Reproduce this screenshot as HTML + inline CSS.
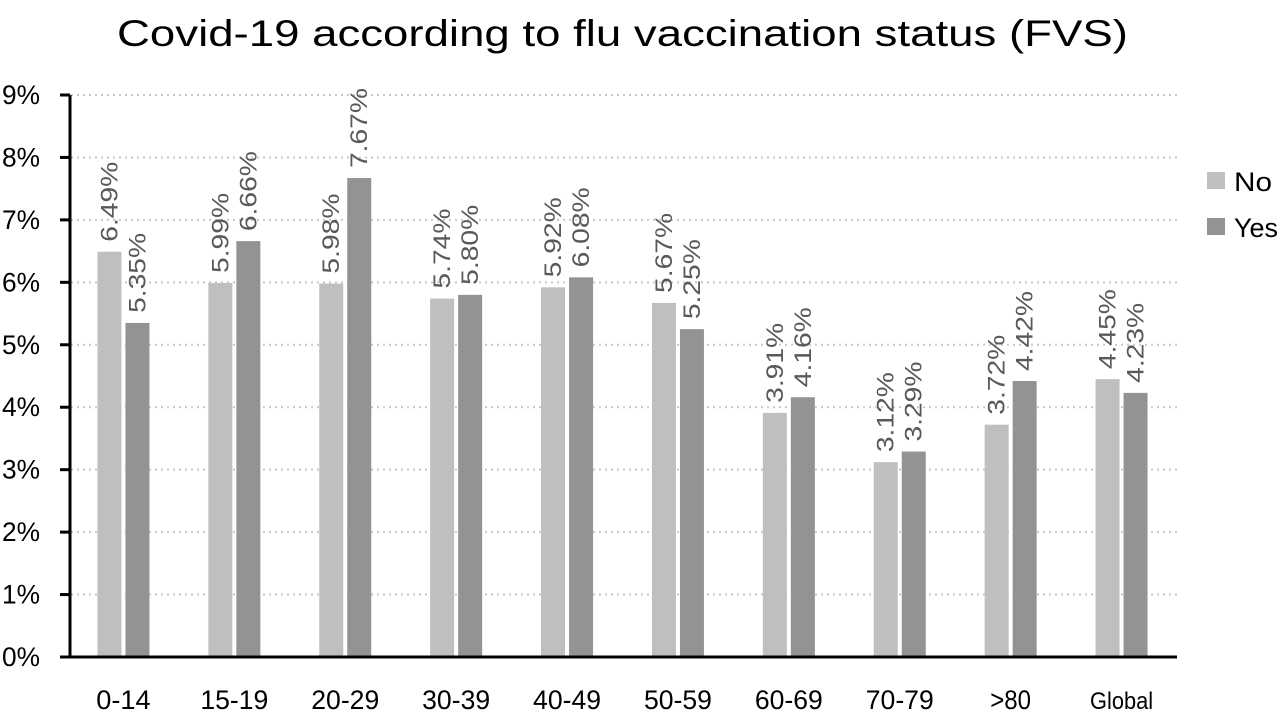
<!DOCTYPE html>
<html><head><meta charset="utf-8"><style>
body{margin:0;background:#fff;}
svg{display:block;font-family:"Liberation Sans",sans-serif;}
</style></head><body>
<svg id="c" width="1280" height="713" viewBox="0 0 1280 713">
<text x="117" y="46" textLength="1011" lengthAdjust="spacingAndGlyphs" font-size="37" fill="#000">Covid-19 according to flu vaccination status (FVS)</text>
<g id="grid"></g><g id="bars"></g><g id="axes"></g>
<g>
<rect x="1207" y="172" width="18" height="17" fill="#bfbfbf"/>
<text x="1234" y="191" textLength="38" lengthAdjust="spacingAndGlyphs" font-size="27" fill="#000">No</text>
<rect x="1207" y="218" width="18" height="17" fill="#939393"/>
<text x="1234" y="237" textLength="44" lengthAdjust="spacingAndGlyphs" font-size="27" fill="#000">Yes</text>
</g>
</svg>
<script>
const categories=["0-14","15-19","20-29","30-39","40-49","50-59","60-69","70-79",">80","Global"];
const noValues=[6.49,5.99,5.98,5.74,5.92,5.67,3.91,3.12,3.72,4.45];
const yesValues=[5.35,6.66,7.67,5.80,6.08,5.25,4.16,3.29,4.42,4.23];
const yTicks=[0,1,2,3,4,5,6,7,8,9];
const NS="http://www.w3.org/2000/svg";
const x0=68,x1=1177,y0=657,yTop=95,yMax=9;
const band=(x1-x0)/categories.length;
const y=v=>y0-(v/yMax)*(y0-yTop);
const cx=i=>x0+band*(i+0.5);
function mk(t,a,p){const e=document.createElementNS(NS,t);for(const k in a)e.setAttribute(k,a[k]);p.appendChild(e);return e;}
const grid=document.getElementById('grid'),bars=document.getElementById('bars'),axes=document.getElementById('axes');
yTicks.forEach(t=>{
  if(t>0){const g=mk('line',{x1:x0+3,x2:x1,y1:y(t),y2:y(t),stroke:'#c8c8c8','stroke-width':2,'stroke-dasharray':'2,4'},grid);
  
  }
  const tk=mk('line',{x1:60,x2:70,y1:y(t),y2:y(t),stroke:'#000','stroke-width':3},axes);
  
  
  const l=mk('text',{x:2,y:y(t)+9,textLength:38,lengthAdjust:'spacingAndGlyphs','font-size':27,fill:'#000'},axes);l.textContent=t+'%';
  
  
});
const yl=mk('line',{x1:70,x2:70,y1:yTop,y2:y0+1.5,stroke:'#000','stroke-width':3},axes);


const xl=mk('line',{x1:x0,x2:x1,y1:y0,y2:y0,stroke:'#000','stroke-width':3},axes);


const bw=24,gap=4;
categories.forEach((c,i)=>{
  [[noValues[i],'#bfbfbf',-1,'no'],[yesValues[i],'#939393',1,'yes']].forEach(([v,col,s,n])=>{
    const bx=s<0?cx(i)-gap/2-bw:cx(i)+gap/2;
    const r=mk('rect',{x:bx,y:y(v),width:bw,height:y0-y(v),fill:col},bars);
    
    
    const tx=bx+bw/2+8,ty=y(v)-10;
    const t=mk('text',{x:tx,y:ty,transform:`rotate(-90 ${tx} ${ty})`,textLength:80,lengthAdjust:'spacingAndGlyphs','font-size':24,fill:'#595959'},bars);
    t.textContent=v.toFixed(2)+'%';
    
    
  });
  const w=c==='Global'?63:c.length*13.6;
  const xt=mk('text',{x:cx(i)-w/2,y:709,textLength:w,lengthAdjust:'spacingAndGlyphs','font-size':c==='Global'?24:27,fill:'#000'},axes);
  xt.textContent=c;
  
  
});
</script>
</body></html>
